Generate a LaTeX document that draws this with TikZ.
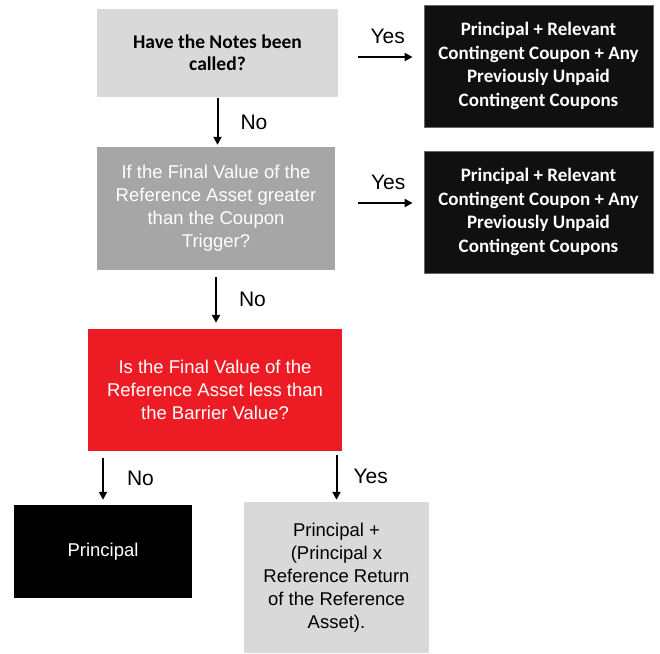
\documentclass[tikz,border=0pt]{standalone}
\usepackage{fontspec}
\setmainfont{Liberation Sans}
\newfontfamily\calfont{Carlito}
\usetikzlibrary{arrows.meta,positioning}
\definecolor{lightbox}{HTML}{D9D9D9}
\definecolor{midbox}{HTML}{A6A6A6}
\definecolor{redbox}{HTML}{ED1C24}
\definecolor{darkbox}{HTML}{101010}
\tikzset{
	box/.style={rectangle,inner sep=0pt,align=center},
	payout/.style={box,fill=darkbox,draw=black!60,line width=0.8pt,text=white,
		font=\calfont\bfseries\fontsize{19}{23.5}\selectfont,minimum width=229,minimum height=122},
	question/.style={box,font=\fontsize{18.5}{23}\selectfont},
	arr/.style={line width=2pt,-{Triangle[length=8pt,width=8pt]}},
	lbl/.style={font=\fontsize{21}{22}\selectfont,inner sep=0pt}
}
\begin{document}
\begin{tikzpicture}[x=1pt,y=1pt]
	\useasboundingbox (0,0) rectangle (660,-653);
	% draw the questions
	\node[question,fill=lightbox,font=\calfont\bfseries\fontsize{19.5}{22}\selectfont,minimum width=241,minimum height=88] (called) at (217.5,-53) {Have the Notes been\\called?};
	\node[question,fill=midbox,text=white,minimum width=238,minimum height=123] (trigger) at (216,-208.5) {If the Final Value of the\\Reference Asset greater\\than the Coupon\\Trigger?};
	\node[question,fill=redbox,text=white,minimum width=254,minimum height=122] (barrier) at (215,-390) {Is the Final Value of the\\Reference Asset less than\\the Barrier Value?};
	% draw the payouts
	\node[payout] (pay1) at (538.5,-66) {Principal + Relevant\\Contingent Coupon + Any\\Previously Unpaid\\Contingent Coupons};
	\node[payout] (pay2) at (538.5,-212) {Principal + Relevant\\Contingent Coupon + Any\\Previously Unpaid\\Contingent Coupons};
	\node[question,fill=black,text=white,minimum width=178,minimum height=93] (principal) at (103,-551.5) {Principal};
	\node[question,fill=lightbox,minimum width=185,minimum height=151] (ret) at (336.5,-577.5) {Principal +\\(Principal x\\Reference Return\\of the Reference\\Asset).};
	% draw the arrows
	\draw[arr,shorten <=20pt,shorten >=11pt] ([yshift=-4pt]called.east) -- ([yshift=-4pt]called.east -| pay1.west) node[lbl,pos=0.58,above=12pt] {Yes};
	\draw[arr,shorten <=23pt,shorten >=11pt] ([yshift=5.5pt]trigger.east) -- ([yshift=5.5pt]trigger.east -| pay2.west) node[lbl,pos=0.6,above=12pt] {Yes};
	\draw[arr,shorten <=1pt,shorten >=2pt] (called.south) -- (called.south |- trigger.north) node[lbl,midway,right=22pt] {No};
	\draw[arr,shorten <=7pt,shorten >=6pt] (trigger.south) -- (trigger.south |- barrier.north) node[lbl,midway,right=22pt] {No};
	\draw[arr,shorten <=7pt,shorten >=5pt] (barrier.south -| principal.north) -- (principal.north) node[lbl,midway,right=23pt] {No};
	\draw[arr,shorten <=4pt,shorten >=2pt] (barrier.south -| ret.north) -- (ret.north) node[lbl,midway,right=16pt] {Yes};
\end{tikzpicture}
\end{document}
